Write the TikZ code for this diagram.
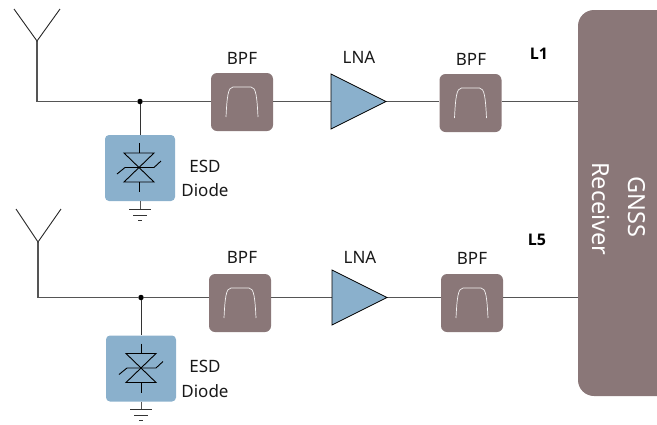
\documentclass[tikz,border=0pt]{standalone}
\usepackage{fontspec}
\setmainfont{Noto Sans}
\newfontfamily\boldfam{Open Sans}
\usetikzlibrary{calc}
\definecolor{boxc}{HTML}{8A7778}
\definecolor{bluec}{HTML}{8AB0CC}
\definecolor{wirec}{HTML}{555555}
\tikzset{
 x=1pt,y=-1pt,
 wire/.style={draw=wirec,line width=1.1pt},
 lbl/.style={font=\fontsize{17}{19}\selectfont,inner sep=0pt,text=black!90},
 boldlbl/.style={font=\boldfam\bfseries\fontsize{16}{18}\selectfont,inner sep=0pt},
 rxlbl/.style={font=\fontsize{23.5}{25}\selectfont,inner sep=0pt,text=white,rotate=-90},
 bpfbox/.style={fill=boxc,rounded corners=6pt,inner sep=0pt,draw=none,minimum width=62pt,minimum height=58pt},
 esdbox/.style={fill=bluec,rounded corners=4pt,inner sep=0pt,draw=none,minimum width=70pt,minimum height=66pt},
 lnatri/.style={fill=bluec,draw=black,line width=0.7pt,line join=miter},
 dotn/.style={circle,fill=black,inner sep=0pt,minimum size=5.5pt},
}
\newcommand{\bpfcurve}[1]{\draw[white!90!boxc,line width=0.7pt] ($(#1)+(-16,15)$) .. controls ($(#1)+(-15,-5)$) and ($(#1)+(-14,-15)$) .. ($(#1)+(-9,-15)$) -- ($(#1)+(9,-15)$) .. controls ($(#1)+(14,-15)$) and ($(#1)+(15,-5)$) .. ($(#1)+(16,15)$);}
\newcommand{\diodesym}[1]{
 \draw[line width=0.9pt,black,line join=miter] ($(#1)+(-15,-14.5)$) -- ($(#1)+(15,-14.5)$) -- ($(#1)+(-15,14.5)$) -- ($(#1)+(15,14.5)$) -- cycle;
 \draw[line width=0.9pt,black] ($(#1)+(0,-24.5)$) -- ($(#1)+(0,-14.5)$) ($(#1)+(0,14.5)$) -- ($(#1)+(0,24.5)$);
 \draw[line width=0.9pt,black] ($(#1)+(-22,6.5)$) -- ($(#1)+(-14,0)$) -- ($(#1)+(15,0)$) -- ($(#1)+(22,-6.5)$);
}
\newcommand{\gndsym}[1]{
 \draw[line width=0.9pt,black!80] ($(#1)+(-11,0)$) -- ($(#1)+(11,0)$);
 \draw[line width=0.9pt,black!80] ($(#1)+(-7,6)$) -- ($(#1)+(7,6)$);
 \draw[line width=0.9pt,black!80] ($(#1)+(-2,11)$) -- ($(#1)+(2,11)$);
}
\begin{document}
\begin{tikzpicture}
\useasboundingbox (0,0) rectangle (657,424);
% receiver
\path[fill=boxc,rounded corners=16pt] (690,10) -- (578,10) -- (578,396) -- (690,396) -- cycle;
\coordinate (rxa) at (578,101.5);
\coordinate (rxb) at (578,297.5);
\node[rxlbl] (gnss) at (637,207) {GNSS};
\node[rxlbl] (recv) at (601,209) {Receiver};

% upper chain
\coordinate (a1) at (37,41);
\coordinate (a1l) at (14,9);
\coordinate (a1r) at (60,9);
\coordinate (c1) at (37,101.5);
\node[dotn] (d1) at (140,101.5) {};
\node[bpfbox] (b11) at (242,102) {};
\node[bpfbox] (b12) at (470.5,103) {};
\coordinate (t1a) at (331,74); \coordinate (t1b) at (331,129); \coordinate (t1c) at (386,101.5);
\coordinate (t1m) at (331,101.5);
\draw[wire] (a1) -- (c1) -- (d1) -- (b11.west |- d1) (b11.east |- t1m) -- (t1m) (t1c) -- (b12.west |- t1c) (b12.east |- rxa) -- (rxa);
\draw[line width=0.9pt,black!85] (a1l) -- (a1) -- (a1r);
\draw[lnatri] (t1a) -- (t1b) -- (t1c) -- cycle;
\bpfcurve{b11}
\bpfcurve{b12}
\node[esdbox] (e1) at (140,168) {};
\draw[draw=black!80,line width=0.9pt] (d1) -- (e1);
\diodesym{139,167.5}
\coordinate (g1) at (140,209);
\draw[draw=wirec,line width=0.9pt] (e1.south) -- (g1);
\gndsym{g1}
\node[lbl] (tb11) at (242,58) {BPF};
\node[lbl] (tl1) at (359,57) {LNA};
\node[lbl] (tb12) at (471,59) {BPF};
\node[boldlbl] (tL1) at (539,54) {L1};
\node[lbl] (te1) at (205,166) {ESD};
\node[lbl] (td1) at (205,190) {Diode};

% lower chain
\coordinate (a2) at (38,242);
\coordinate (a2l) at (16,209);
\coordinate (a2r) at (61,209);
\coordinate (c2) at (38,297.5);
\node[dotn] (d2) at (141,297.5) {};
\node[bpfbox] (b21) at (240,303) {};
\node[bpfbox] (b22) at (472,303) {};
\coordinate (t2a) at (332,270); \coordinate (t2b) at (332,325); \coordinate (t2c) at (387,297.5);
\coordinate (t2m) at (332,297.5);
\draw[wire] (a2) -- (c2) -- (d2) -- (b21.west |- d2) (b21.east |- t2m) -- (t2m) (t2c) -- (b22.west |- t2c) (b22.east |- rxb) -- (rxb);
\draw[line width=0.9pt,black!85] (a2l) -- (a2) -- (a2r);
\draw[lnatri] (t2a) -- (t2b) -- (t2c) -- cycle;
\bpfcurve{b21}
\bpfcurve{b22}
\node[esdbox] (e2) at (141,368.5) {};
\draw[draw=black!80,line width=0.9pt] (d2) -- (e2);
\diodesym{141,368}
\coordinate (g2) at (141,409);
\draw[draw=wirec,line width=0.9pt] (e2.south) -- (g2);
\gndsym{g2}
\node[lbl] (tb21) at (242,257) {BPF};
\node[lbl] (tl2) at (360,257) {LNA};
\node[lbl] (tb22) at (472,258) {BPF};
\node[boldlbl] (tL5) at (537,240) {L5};
\node[lbl] (te2) at (205,366) {ESD};
\node[lbl] (td2) at (205,391) {Diode};
\end{tikzpicture}
\end{document}
